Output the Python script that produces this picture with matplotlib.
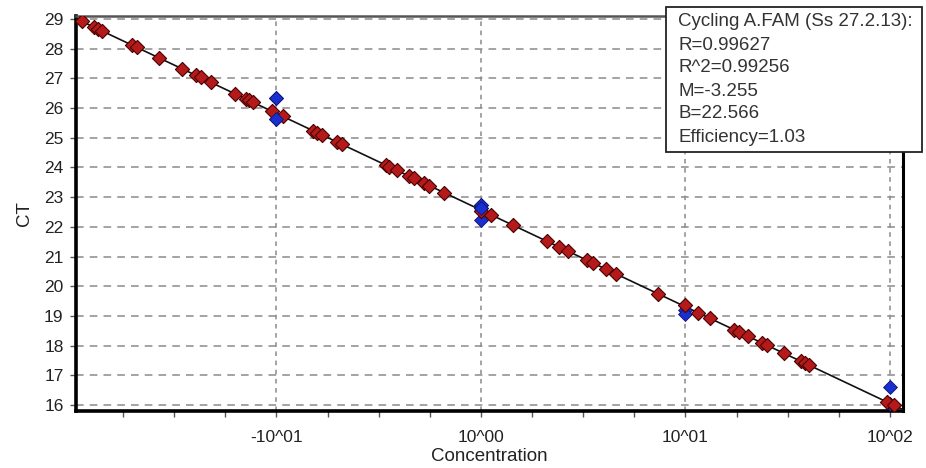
import numpy as np
import matplotlib
matplotlib.use("Agg")
import matplotlib.pyplot as plt
from matplotlib.patches import Rectangle

plt.rcParams['font.family'] = ['Liberation Sans', 'DejaVu Sans']

# ---- data ----
red_conc = [0.01115, 0.01282, 0.01345, 0.01406, 0.01972, 0.02085, 0.02662, 0.03460,
            0.04027, 0.04259, 0.04767, 0.06266, 0.07068, 0.07338, 0.07674, 0.09531,
            0.1076, 0.1509, 0.1583, 0.1675, 0.1983, 0.2084, 0.342, 0.3548, 0.3897,
            0.4446, 0.4704, 0.5263, 0.5567, 0.6594, 1.0, 1.115, 1.434, 2.110, 2.407,
            2.673, 3.310, 3.529, 4.101, 4.557, 7.362, 9.945, 11.55, 13.13, 17.27,
            18.27, 20.28, 23.59, 25.12, 30.32, 36.59, 38.41, 40.18, 97.0, 104.6]
red_ct = [28.92, 28.73, 28.66, 28.59, 28.12, 28.04, 27.69, 27.32,
          27.11, 27.03, 26.87, 26.48, 26.31, 26.26, 26.19, 25.89,
          25.72, 25.24, 25.17, 25.09, 24.85, 24.78, 24.08, 24.03, 23.90,
          23.71, 23.63, 23.47, 23.39, 23.15, 22.55, 22.41, 22.06, 21.51, 21.32,
          21.18, 20.87, 20.78, 20.57, 20.42, 19.74, 19.38, 19.11, 18.93, 18.54,
          18.46, 18.31, 18.10, 18.01, 17.74, 17.48, 17.41, 17.35, 16.10, 15.99]
blue_conc = [0.1, 0.1, 1.0, 1.0, 1.0, 10.0, 10.0, 100.0, 100.0]
blue_ct = [26.35, 25.62, 22.74, 22.62, 22.23, 19.20, 19.06, 16.60, 16.04]

fit_M = -3.255
fit_B = 22.566
stats_lines = ["Cycling A.FAM (Ss 27.2.13):", "R=0.99627", "R^2=0.99256",
               "M=-3.255", "B=22.566", "Efficiency=1.03"]

xtick_vals = [0.1, 1, 10, 100]
xtick_labels = ["-10^01", "10^00", "10^01", "10^02"]
ytick_vals = list(range(16, 30))

# ---- figure ----
W, H = 926, 468
fig = plt.figure(figsize=(W / 100, H / 100), dpi=100)
L, R, T, B = 76, 903, 16, 410.7
ax = fig.add_axes([L / W, 1 - B / H, (R - L) / W, (B - T) / H])

ax.set_xscale('log')
xmin, xmax = 10 ** -1.98, 10 ** 2.064
ax.set_xlim(xmin, xmax)
ax.set_ylim(15.81, 29.10)

# fit line
xl = np.logspace(np.log10(xmin), np.log10(xmax), 50)
ax.plot(xl, fit_B + fit_M * np.log10(xl), color='#111111', lw=1.2, zorder=3)

ax.scatter(blue_conc, blue_ct, marker='D', s=50, color='#1a2fd0',
           edgecolor='#0a1470', linewidth=0.6, zorder=4)
ax.scatter(red_conc, red_ct, marker='D', s=52, color='#b51a1a',
           edgecolor='#4a0000', linewidth=0.8, zorder=5)
# blue on top of red where they overlap at 0.1 and 1
ax.scatter(blue_conc[:4], blue_ct[:4], marker='D', s=50, color='#1a2fd0',
           edgecolor='#0a1470', linewidth=0.6, zorder=6)

ax.set_xticks(xtick_vals)
ax.set_xticklabels(xtick_labels)
minor = [10 ** (k + f) for k in range(-2, 3) for f in (0.25, 0.5, 0.75)]
minor = [m for m in minor if xmin <= m <= xmax]
ax.set_xticks(minor, minor=True)
ax.xaxis.set_minor_formatter(matplotlib.ticker.NullFormatter())
ax.set_yticks(ytick_vals)

ax.tick_params(axis='both', which='major', direction='out', length=4, width=1,
               color='#555555', labelsize=12.5, labelcolor='#222222')
ax.tick_params(axis='x', which='major', pad=10)
ax.tick_params(axis='y', which='major', pad=5)
ax.tick_params(axis='x', which='minor', direction='out', length=4, width=1, color='#555555')

ax.grid(True, axis='y', which='major', color='#8a8a8a', lw=1.1, linestyle=(0, (5, 4)))
ax.grid(True, axis='x', which='major', color='#8a8a8a', lw=1.1, linestyle=(0, (3, 3)))
ax.set_axisbelow(True)

for s in ('left', 'bottom'):
    ax.spines[s].set_color('black')
    ax.spines[s].set_linewidth(2.6)
ax.spines['right'].set_color('black')
ax.spines['right'].set_linewidth(2.2)
ax.spines['top'].set_color('#555555')
ax.spines['top'].set_linewidth(1.8)

ax.set_xlabel("Concentration", fontsize=13.5, color='#222222', labelpad=2)
ax.set_ylabel("CT", fontsize=13.5, color='#222222', labelpad=8)

# stats box
bx0, by0, bx1, by1 = 666, 7, 922, 152
fig.add_artist(Rectangle((bx0 / W, 1 - by1 / H), (bx1 - bx0) / W, (by1 - by0) / H,
                         transform=fig.transFigure, facecolor='white',
                         edgecolor='#222222', lw=1.3, zorder=10))
for i, line in enumerate(stats_lines):
    fig.text(678 / W, 1 - (22 + 23 * i) / H, line, fontsize=13.5, color='#333333',
             ha='left', va='center', zorder=11)

fig.savefig("out.png", dpi=100)
